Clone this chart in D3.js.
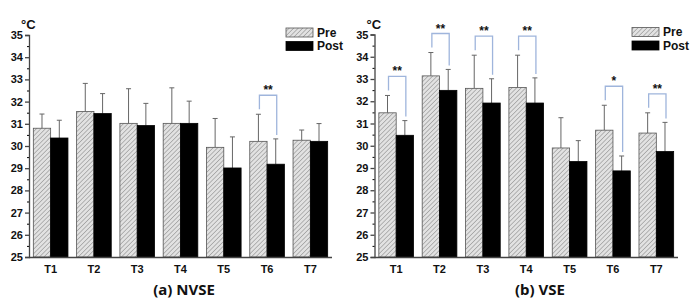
<!DOCTYPE html>
<html>
<head>
<meta charset="utf-8">
<script src="https://cdn.jsdelivr.net/npm/d3@7"></script>
<style>
  body { margin: 0; background: #fff; }
  svg { display: block; }
</style>
</head>
<body>
<svg id="chart" width="696" height="306"></svg>
<script>
const TIMES = ["T1", "T2", "T3", "T4", "T5", "T6", "T7"];
const SERIES = ["Pre", "Post"];
const Y_TICKS = [25, 26, 27, 28, 29, 30, 31, 32, 33, 34, 35];

// (a) NVSE
const NVSE_PRE = [30.8, 31.55, 31.02, 31.02, 29.94, 30.21, 30.26];
const NVSE_PRE_SD = [0.64, 1.27, 1.56, 1.6, 1.3, 1.22, 0.46];
const NVSE_POST = [30.36, 31.46, 30.92, 31.02, 29.01, 29.18, 30.21];
const NVSE_POST_SD = [0.8, 0.9, 1.0, 1.0, 1.4, 1.14, 0.8];
const NVSE_SIG = [null, null, null, null, null, "**", null];

// (b) VSE
const VSE_PRE = [31.48, 33.14, 32.58, 32.62, 29.9, 30.7, 30.57];
const VSE_PRE_SD = [0.78, 1.05, 1.49, 1.45, 1.36, 1.12, 0.91];
const VSE_POST = [30.47, 32.49, 31.92, 31.92, 29.29, 28.87, 29.74];
const VSE_POST_SD = [0.66, 0.94, 1.09, 1.13, 0.94, 0.67, 1.31];
const VSE_SIG = ["**", "**", "**", "**", null, "*", "**"];

const svg = d3.select("#chart");
const TICK_FONT = "'Liberation Sans', Arial, sans-serif";

// hatch pattern for Pre bars
const defs = svg.append("defs");
const pat = defs.append("pattern")
  .attr("id", "hatch")
  .attr("patternUnits", "userSpaceOnUse")
  .attr("width", 3.2).attr("height", 3.2)
  .attr("patternTransform", "rotate(45)");
pat.append("rect").attr("width", 3.2).attr("height", 3.2).attr("fill", "#e2e2e2");
pat.append("line").attr("x1", 0).attr("y1", 0).attr("x2", 0).attr("y2", 3.2)
  .attr("stroke", "#8a8a8a").attr("stroke-width", 1.1);

const drawPanel = (cfg) => {
  const { left, right, top, bottom, pre, preSd, post, postSd, sig, title, titleX } = cfg;
  const g = svg.append("g");

  const x0 = d3.scaleBand().domain(TIMES).range([left, right]).paddingInner(0.2).paddingOuter(0.1);
  const x1 = d3.scaleBand().domain(SERIES).range([0, x0.bandwidth()]);
  const y = d3.scaleLinear().domain([25, 35]).range([bottom, top]);

  const rows = TIMES.map((t, i) => ({
    t,
    vals: [
      { s: "Pre", v: pre[i], sd: preSd[i] },
      { s: "Post", v: post[i], sd: postSd[i] }
    ],
    sig: sig[i]
  }));

  const groups = g.selectAll(".grp").data(rows).join("g")
    .attr("transform", d => `translate(${x0(d.t)},0)`);

  // error bars (upper only)
  groups.selectAll(".err").data(d => d.vals).join("g").each(function (d) {
    const cx = x1(d.s) + x1.bandwidth() / 2;
    const e = d3.select(this);
    e.append("line").attr("x1", cx).attr("x2", cx)
      .attr("y1", y(d.v)).attr("y2", y(d.v + d.sd))
      .attr("stroke", "#666").attr("stroke-width", 1);
    e.append("line").attr("x1", cx - 2.5).attr("x2", cx + 2.5)
      .attr("y1", y(d.v + d.sd)).attr("y2", y(d.v + d.sd))
      .attr("stroke", "#666").attr("stroke-width", 1);
  });

  groups.selectAll("rect").data(d => d.vals).join("rect")
    .attr("x", d => x1(d.s))
    .attr("y", d => y(d.v))
    .attr("width", x1.bandwidth())
    .attr("height", d => y(25) - y(d.v))
    .attr("fill", d => d.s === "Pre" ? "url(#hatch)" : "#000")
    .attr("stroke", d => d.s === "Pre" ? "#555" : "#000")
    .attr("stroke-width", 0.8);

  // significance brackets
  groups.filter(d => d.sig).each(function (d) {
    const gg = d3.select(this);
    const xa = x1("Pre") + x1.bandwidth() / 2 + 1;
    const xb = x1("Post") + x1.bandwidth() / 2 + 1;
    const ya = y(d.vals[0].v + d.vals[0].sd) - 5;
    const yb = y(d.vals[1].v + d.vals[1].sd) - 4;
    const yTop = Math.min(ya, yb) - 14;
    gg.append("path")
      .attr("d", `M${xa},${ya}V${yTop}H${xb}V${yb}`)
      .attr("fill", "none").attr("stroke", "#9fb5dc").attr("stroke-width", 1.3);
    gg.append("text")
      .attr("x", (xa + xb) / 2).attr("y", yTop - 1)
      .attr("text-anchor", "middle")
      .attr("font-family", TICK_FONT).attr("font-weight", "bold").attr("font-size", 12)
      .attr("fill", "#111")
      .text(d.sig);
  });

  // y axis
  const yAxis = g.append("g").attr("transform", `translate(${left},0)`)
    .call(d3.axisLeft(y).tickValues(Y_TICKS).tickFormat(d3.format("d")).tickSize(4).tickPadding(2));
  g.append("g").attr("transform", `translate(${left},0)`)
    .call(d3.axisLeft(y).tickValues(d3.range(25.5, 35, 1)).tickFormat("").tickSize(2))
    .call(a => a.select(".domain").remove());

  // x axis
  const xAxis = g.append("g").attr("transform", `translate(0,${bottom})`)
    .call(d3.axisBottom(x0).tickSize(0).tickPadding(8).tickSizeOuter(0));
  xAxis.select(".domain").attr("d", `M${left},0.5H${right}`);

  [yAxis, xAxis].forEach(a => {
    a.selectAll(".domain, line").attr("stroke", "#444").attr("stroke-width", 1.3);
    a.selectAll("text").attr("font-family", TICK_FONT).attr("font-weight", "bold")
      .attr("font-size", 11).attr("fill", "#111");
  });

  // unit label
  g.append("text").attr("x", left - 8).attr("y", top - 6)
    .attr("font-family", TICK_FONT).attr("font-weight", "bold").attr("font-size", 13)
    .attr("fill", "#111").text("°C");

  // legend
  const lx = right - 46, ly = top - 7;
  SERIES.forEach((s, i) => {
    g.append("rect").attr("x", lx).attr("y", ly + i * 13.5)
      .attr("width", 27).attr("height", 9)
      .attr("fill", s === "Pre" ? "url(#hatch)" : "#000")
      .attr("stroke", s === "Pre" ? "#555" : "#000").attr("stroke-width", 0.8);
    g.append("text").attr("x", lx + 31).attr("y", ly + i * 13.5 + 8.5)
      .attr("font-family", TICK_FONT).attr("font-weight", "bold").attr("font-size", 12)
      .attr("fill", "#111").text(s);
  });

  // panel title
  g.append("text").attr("x", titleX).attr("y", 295)
    .attr("text-anchor", "middle")
    .attr("font-family", "'Noto Sans', 'Noto Sans CJK KR', sans-serif")
    .attr("font-weight", "bold").attr("font-size", 15).attr("fill", "#111")
    .text(title);
};

drawPanel({
  left: 29, right: 332, top: 35, bottom: 257,
  pre: NVSE_PRE, preSd: NVSE_PRE_SD, post: NVSE_POST, postSd: NVSE_POST_SD, sig: NVSE_SIG,
  title: "(a) NVSE", titleX: 184
});

drawPanel({
  left: 374.5, right: 678, top: 34.5, bottom: 257,
  pre: VSE_PRE, preSd: VSE_PRE_SD, post: VSE_POST, postSd: VSE_POST_SD, sig: VSE_SIG,
  title: "(b) VSE", titleX: 540
});
</script>
</body>
</html>
